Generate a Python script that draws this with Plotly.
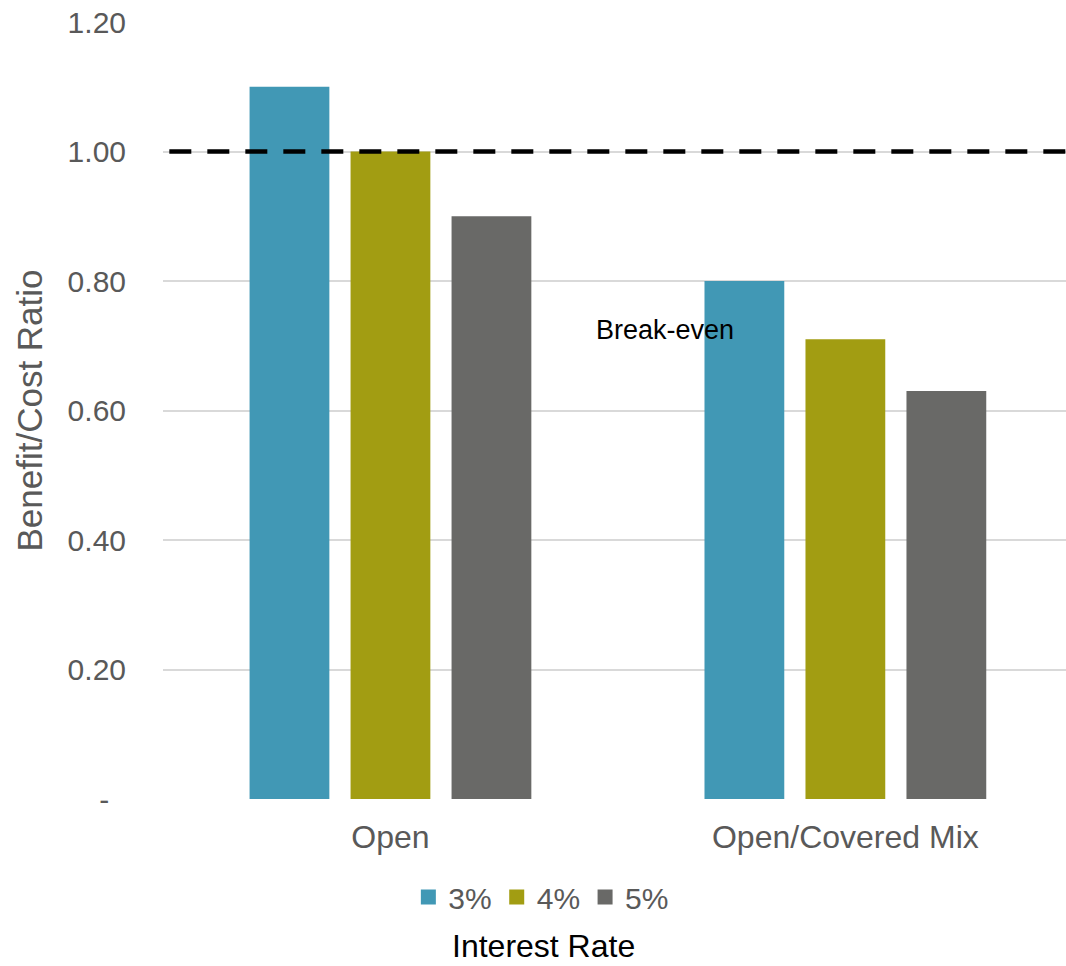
import plotly.graph_objects as go

# Data
categories = ["Open", "Open/Covered Mix"]
series_names = ["3%", "4%", "5%"]
values_3pct = [1.10, 0.80]
values_4pct = [1.00, 0.71]
values_5pct = [0.90, 0.63]
colors = ["#4198B5", "#A29D12", "#696967"]

y_tickvals = [0, 0.2, 0.4, 0.6, 0.8, 1.0, 1.2]
y_ticktext = ["-\u00a0\u00a0", "0.20", "0.40", "0.60", "0.80", "1.00", "1.20"]
break_even = 1.0

FONT = "Liberation Sans, Arial, sans-serif"
GREY_TEXT = "#595959"

fig = go.Figure()
for name, vals, col in zip(series_names, [values_3pct, values_4pct, values_5pct], colors):
    fig.add_trace(go.Bar(
        x=categories, y=vals, name=name, showlegend=False,
        marker=dict(color=col, line=dict(width=0)),
    ))

# Legend entries with larger square swatches
for name, col in zip(series_names, colors):
    fig.add_trace(go.Scatter(
        x=[None], y=[None], mode="markers", name=name,
        marker=dict(symbol="square", size=15, color=col),
    ))

# Break-even reference line
fig.add_shape(
    type="line", xref="paper", yref="y",
    x0=0.007, x1=1, y0=break_even, y1=break_even,
    line=dict(color="black", width=4.5, dash="22px,16px"),
    layer="above",
)

fig.add_annotation(
    text="Break-even", xref="paper", yref="y",
    x=0.556, y=0.724, showarrow=False,
    font=dict(family=FONT, size=27, color="black"),
)

fig.add_annotation(
    text="Interest Rate", xref="paper", yref="paper",
    x=0.421, y=-0.2149, showarrow=False, yanchor="bottom",
    font=dict(family=FONT, size=32, color="black"),
)

fig.update_layout(
    width=1066, height=966,
    margin=dict(l=163, r=0, t=22, b=167),
    paper_bgcolor="white", plot_bgcolor="white",
    barmode="group", bargap=0.334, bargroupgap=0.21,
    font=dict(family=FONT, color=GREY_TEXT),
    showlegend=True,
    legend=dict(
        orientation="h", x=0.419, xanchor="center",
        y=-0.126, yanchor="middle",
        font=dict(family=FONT, size=30, color=GREY_TEXT),
        itemwidth=30, traceorder="normal",
    ),
    xaxis=dict(
        range=[-0.5, 1.485],
        showgrid=False, zeroline=False, showline=False,
        ticks="", ticklabelstandoff=16,
        tickfont=dict(family=FONT, size=32, color=GREY_TEXT),
    ),
    yaxis=dict(
        range=[0, 1.2],
        tickvals=y_tickvals, ticktext=y_ticktext,
        showgrid=True, gridcolor="#D9D9D9", gridwidth=2,
        zeroline=False, showline=False, ticks="",
        ticklabelstandoff=36,
        tickfont=dict(family=FONT, size=30, color=GREY_TEXT),
        title=dict(text="Benefit/Cost Ratio", standoff=14,
                   font=dict(family=FONT, size=35, color=GREY_TEXT)),
    ),
)

fig.write_html("out.html")
